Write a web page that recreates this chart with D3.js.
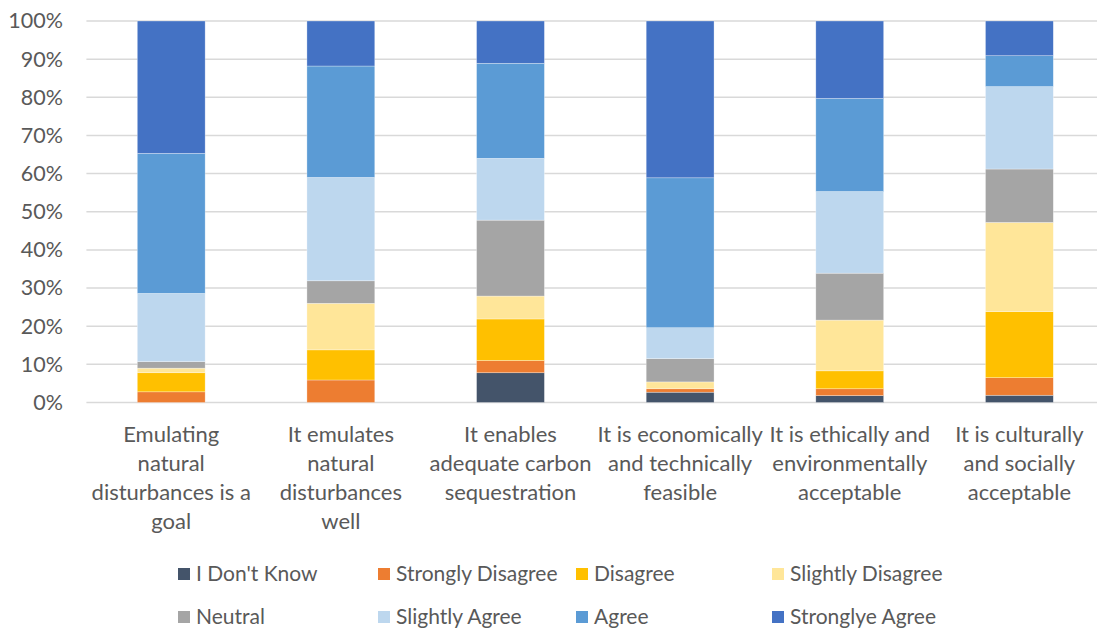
<!DOCTYPE html>
<html>
<head>
<meta charset="utf-8">
<script src="https://cdn.jsdelivr.net/npm/d3@7"></script>
<style>
  html, body { margin: 0; padding: 0; background: #fff; }
  svg { display: block; font-family: Lato, "Open Sans", sans-serif; }
</style>
</head>
<body>
<svg id="chart" width="1097" height="631"></svg>
<script>
// Survey statements (line breaks follow the axis label wrapping)
const categories = [
  "Emulating\nnatural\ndisturbances is a\ngoal",
  "It emulates\nnatural\ndisturbances\nwell",
  "It enables\nadequate carbon\nsequestration",
  "It is economically\nand technically\nfeasible",
  "It is ethically and\nenvironmentally\nacceptable",
  "It is culturally\nand socially\nacceptable"
];

// Response options, bottom to top of each stack
const responses = ["I Don't Know", "Strongly Disagree", "Disagree", "Slightly Disagree",
                   "Neutral", "Slightly Agree", "Agree", "Stronglye Agree"];

// Share of respondents (%) per statement for each response
const idk      = [0.0, 0.0, 7.8, 2.7, 1.8, 1.9];
const strDis   = [2.8, 5.9, 3.2, 0.9, 1.8, 4.6];
const disagree = [5.0, 7.9, 10.9, 0.0, 4.7, 17.3];
const sliDis   = [1.2, 12.2, 6.0, 1.8, 13.3, 23.4];
const neutral  = [1.7, 5.9, 19.9, 6.1, 12.3, 14.0];
const sliAgr   = [17.9, 27.1, 16.2, 8.1, 21.4, 21.6];
const agree    = [36.7, 29.2, 24.9, 39.3, 24.4, 8.1];
const strAgr   = [34.7, 11.8, 11.1, 41.1, 20.3, 9.1];

const yTicks = [0, 0.1, 0.2, 0.3, 0.4, 0.5, 0.6, 0.7, 0.8, 0.9, 1.0];

const colors = ["#44546A", "#ED7D31", "#FFC000", "#FFE699",
                "#A5A5A5", "#BDD7EE", "#5B9BD5", "#4472C4"];

const seriesValues = [idk, strDis, disagree, sliDis, neutral, sliAgr, agree, strAgr];

// Build rows for d3.stack
const rows = categories.map((c, i) => {
  const r = { category: c };
  responses.forEach((k, j) => { r[k] = seriesValues[j][i]; });
  return r;
});

const stacked = d3.stack()
  .keys(responses)
  .offset(d3.stackOffsetExpand)(rows);

const svg = d3.select("#chart");
const margin = { left: 86.4, right: 1104.2, top: 21, bottom: 402.5 };
const textColor = "#595959";
const fontFamily = "Lato, sans-serif";

const x = d3.scaleBand()
  .domain(categories)
  .range([margin.left, margin.right])
  .paddingInner(0.6)
  .paddingOuter(0.3);

const y = d3.scaleLinear().domain([0, 1]).range([margin.bottom, margin.top]);

// Gridlines
svg.append("g")
  .selectAll("line")
  .data(yTicks)
  .join("line")
  .attr("x1", margin.left)
  .attr("x2", margin.right)
  .attr("y1", d => y(d))
  .attr("y2", d => y(d))
  .attr("stroke", "#d9d9d9")
  .attr("stroke-width", 1.5);

// Y axis labels
const yAxis = d3.axisLeft(y)
  .tickValues(yTicks)
  .tickFormat(d3.format(".0%"))
  .tickSize(0)
  .tickPadding(0);

const yg = svg.append("g")
  .attr("transform", `translate(${63},0)`)
  .call(yAxis);
yg.select(".domain").remove();
yg.selectAll("text")
  .attr("font-family", fontFamily)
  .attr("font-size", 21.5)
  .attr("fill", textColor);

// Stacked bars
svg.append("g")
  .selectAll("g")
  .data(stacked)
  .join("g")
  .attr("fill", (d, i) => colors[i])
  .selectAll("rect")
  .data(d => d)
  .join("rect")
  .attr("x", d => x(d.data.category))
  .attr("width", x.bandwidth())
  .attr("y", d => y(d[1]))
  .attr("height", d => Math.max(0, y(d[0]) - y(d[1])))
  .attr("stroke", "#ffffff")
  .attr("stroke-opacity", 0.5)
  .attr("stroke-width", 0.6);

// Category labels
const xAxis = d3.axisBottom(x).tickSize(0).tickFormat("");
const xg = svg.append("g")
  .attr("transform", `translate(0,${margin.bottom})`)
  .call(xAxis);
xg.select(".domain").remove();
xg.selectAll(".tick").each(function(d) {
  const lines = d.split("\n");
  const t = d3.select(this).append("text")
    .attr("text-anchor", "middle")
    .attr("font-family", fontFamily)
    .attr("font-size", 22)
    .attr("fill", textColor);
  lines.forEach((ln, i) => {
    t.append("tspan")
      .attr("x", 0)
      .attr("y", 39 + i * 29)
      .text(ln);
  });
});

// Legend (two rows of four)
const legendCols = [178, 378, 576, 772];
const legendRows = [574, 617];
const legend = svg.append("g")
  .selectAll("g")
  .data(responses)
  .join("g")
  .attr("transform", (d, i) => `translate(${legendCols[i % 4]},${legendRows[Math.floor(i / 4)]})`);

legend.append("rect")
  .attr("x", 0)
  .attr("y", -6)
  .attr("width", 12)
  .attr("height", 12)
  .attr("fill", (d, i) => colors[i]);

legend.append("text")
  .attr("x", 18)
  .attr("y", 0)
  .attr("dy", "0.35em")
  .attr("font-family", fontFamily)
  .attr("font-size", 21)
  .attr("fill", textColor)
  .text(d => d);
</script>
</body>
</html>
